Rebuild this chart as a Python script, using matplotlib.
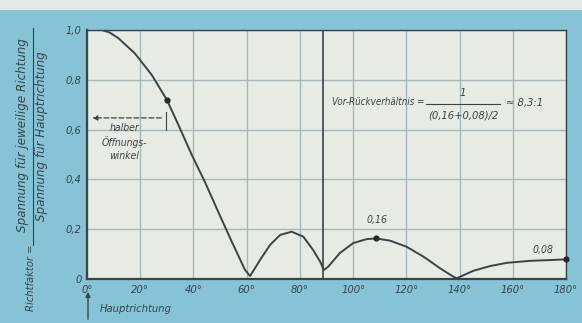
import matplotlib
matplotlib.use("Agg")
import matplotlib.pyplot as plt
from matplotlib import font_manager
import numpy as np

# data
angles = [0, 5.6, 8.5, 11.8, 18, 24.3, 30, 34.3, 39.3, 44.3, 49.3, 54.4, 59.4, 61.3,
          65, 68.8, 72.6, 76.9, 81.3, 85, 87.6, 89,
          90.7, 95, 100, 105, 108.6, 113.9, 120, 126.4, 132.7, 137.7, 139,
          140.2, 145.2, 151.5, 157.8, 166.5, 174, 180]
values = [1.0, 1.0, 0.99, 0.967, 0.906, 0.82, 0.72, 0.62, 0.50, 0.39, 0.27, 0.15, 0.036, 0.012,
          0.076, 0.137, 0.177, 0.19, 0.17, 0.116, 0.07, 0.036,
          0.05, 0.104, 0.144, 0.16, 0.163, 0.154, 0.13, 0.09, 0.043, 0.009, 0.003,
          0.009, 0.033, 0.052, 0.065, 0.073, 0.076, 0.079]
marker_angles = [30, 108.6, 180]
marker_values = [0.72, 0.163, 0.079]
x_ticks = [0, 20, 40, 60, 80, 100, 120, 140, 160, 180]
x_labels = ["0°", "20°", "40°", "60°", "80°", "100°", "120°", "140°", "160°", "180°"]
y_ticks = [0, 0.2, 0.4, 0.6, 0.8, 1.0]
y_labels = ["0", "0,2", "0,4", "0,6", "0,8", "1,0"]
null_line_angle = 88.8

names = {f.name for f in font_manager.fontManager.ttflist}
FAM = "Liberation Sans Narrow" if "Liberation Sans Narrow" in names else "DejaVu Sans"
STRETCH = "normal" if FAM == "Liberation Sans Narrow" else "condensed"
plt.rcParams["font.family"] = [FAM, "DejaVu Sans"]
plt.rcParams["font.style"] = "italic"
plt.rcParams["font.stretch"] = STRETCH

W, H = 582, 323
BLUE = "#86c3d6"
FACE = "#e6ebe3"
INK = "#3a4448"
GRID = "#a6b8bb"

fig = plt.figure(figsize=(W / 100, H / 100), dpi=100, facecolor=BLUE)
fig.patches.append(plt.Rectangle((0, 1 - 10 / H), 1, 10 / H, transform=fig.transFigure,
                                 facecolor="#e2e8e6", edgecolor="none", zorder=0))

ax = fig.add_axes([87 / W, 1 - 279 / H, (566 - 87) / W, (279 - 30) / H])
ax.set_facecolor(FACE)
ax.set_xlim(0, 180)
ax.set_ylim(0, 1.0)
ax.set_xticks(x_ticks)
ax.set_yticks(y_ticks)
ax.set_xticklabels(x_labels, fontsize=8, color=INK)
ax.set_yticklabels(y_labels, fontsize=8, color=INK)
ax.tick_params(length=0, pad=4)
ax.grid(True, color=GRID, linewidth=1.0)
for s in ax.spines.values():
    s.set_color(INK)
    s.set_linewidth(1.0)
ax.spines["left"].set_linewidth(1.6)
ax.spines["bottom"].set_linewidth(1.6)

ax.plot(angles, values, color=INK, linewidth=1.4, zorder=3, solid_joinstyle="round")
ax.plot(marker_angles, marker_values, "o", color="#222a2c", markersize=3.5, zorder=4,
        clip_on=False)
ax.axvline(null_line_angle, color=INK, linewidth=1.2, zorder=3)

# half opening angle annotation
ax.annotate("", xy=(1, 0.647), xytext=(29, 0.647),
            arrowprops=dict(arrowstyle="-|>", color=INK, linestyle=(0, (4, 2)),
                            linewidth=0.9, mutation_scale=7))
ax.plot([29.5, 29.5], [0.60, 0.67], color=INK, linewidth=0.8)
ax.text(14, 0.55, "halber\nÖffnungs-\nwinkel", ha="center", va="center",
        fontsize=7.5, color=INK, linespacing=1.35)

# labels
ax.text(109, 0.237, "0,16", ha="center", va="center", fontsize=7.5, color=INK)
ax.text(171.5, 0.116, "0,08", ha="center", va="center", fontsize=7.5, color=INK)

# formula
ax.text(92, 0.712, "Vor-Rückverhältnis =", ha="left", va="center",
        fontsize=7, color=INK)
ax.text(141.3, 0.747, "1", ha="center", va="center", fontsize=8, color=INK)
ax.plot([127.4, 155.2], [0.703, 0.703], color=INK, linewidth=0.8)
ax.text(141.3, 0.655, "(0,16+0,08)/2", ha="center", va="center",
        fontsize=8, color=INK)
ax.text(157.3, 0.706, "≈ 8,3:1", ha="left", va="center", fontsize=8, color=INK)

# y-axis label as fraction
fig.text(31 / W, 1 - 278 / H, "Richtfaktor =", rotation=90, ha="center", va="center",
         fontsize=8, color=INK)
fig.text(23 / W, 1 - 135 / H, "Spannung für jeweilige Richtung", rotation=90,
         ha="center", va="center", fontsize=9.5, color=INK)
fig.text(42 / W, 1 - 136 / H, "Spannung für Hauptrichtung", rotation=90,
         ha="center", va="center", fontsize=9.5, color=INK)
fig.lines.append(plt.Line2D([32.5 / W, 32.5 / W], [1 - 245 / H, 1 - 28 / H],
                            transform=fig.transFigure, color=INK, linewidth=0.8))

# Hauptrichtung arrow
fig.patches.append(matplotlib.patches.FancyArrowPatch(
    (88 / W, 1 - 322 / H), (88 / W, 1 - 289 / H), transform=fig.transFigure,
    arrowstyle="-|>", mutation_scale=7, color=INK, linewidth=1.0))
fig.text(100 / W, 1 - 309 / H, "Hauptrichtung", ha="left", va="center",
         fontsize=8, color=INK)

fig.savefig("out.png", dpi=100, facecolor=BLUE)
